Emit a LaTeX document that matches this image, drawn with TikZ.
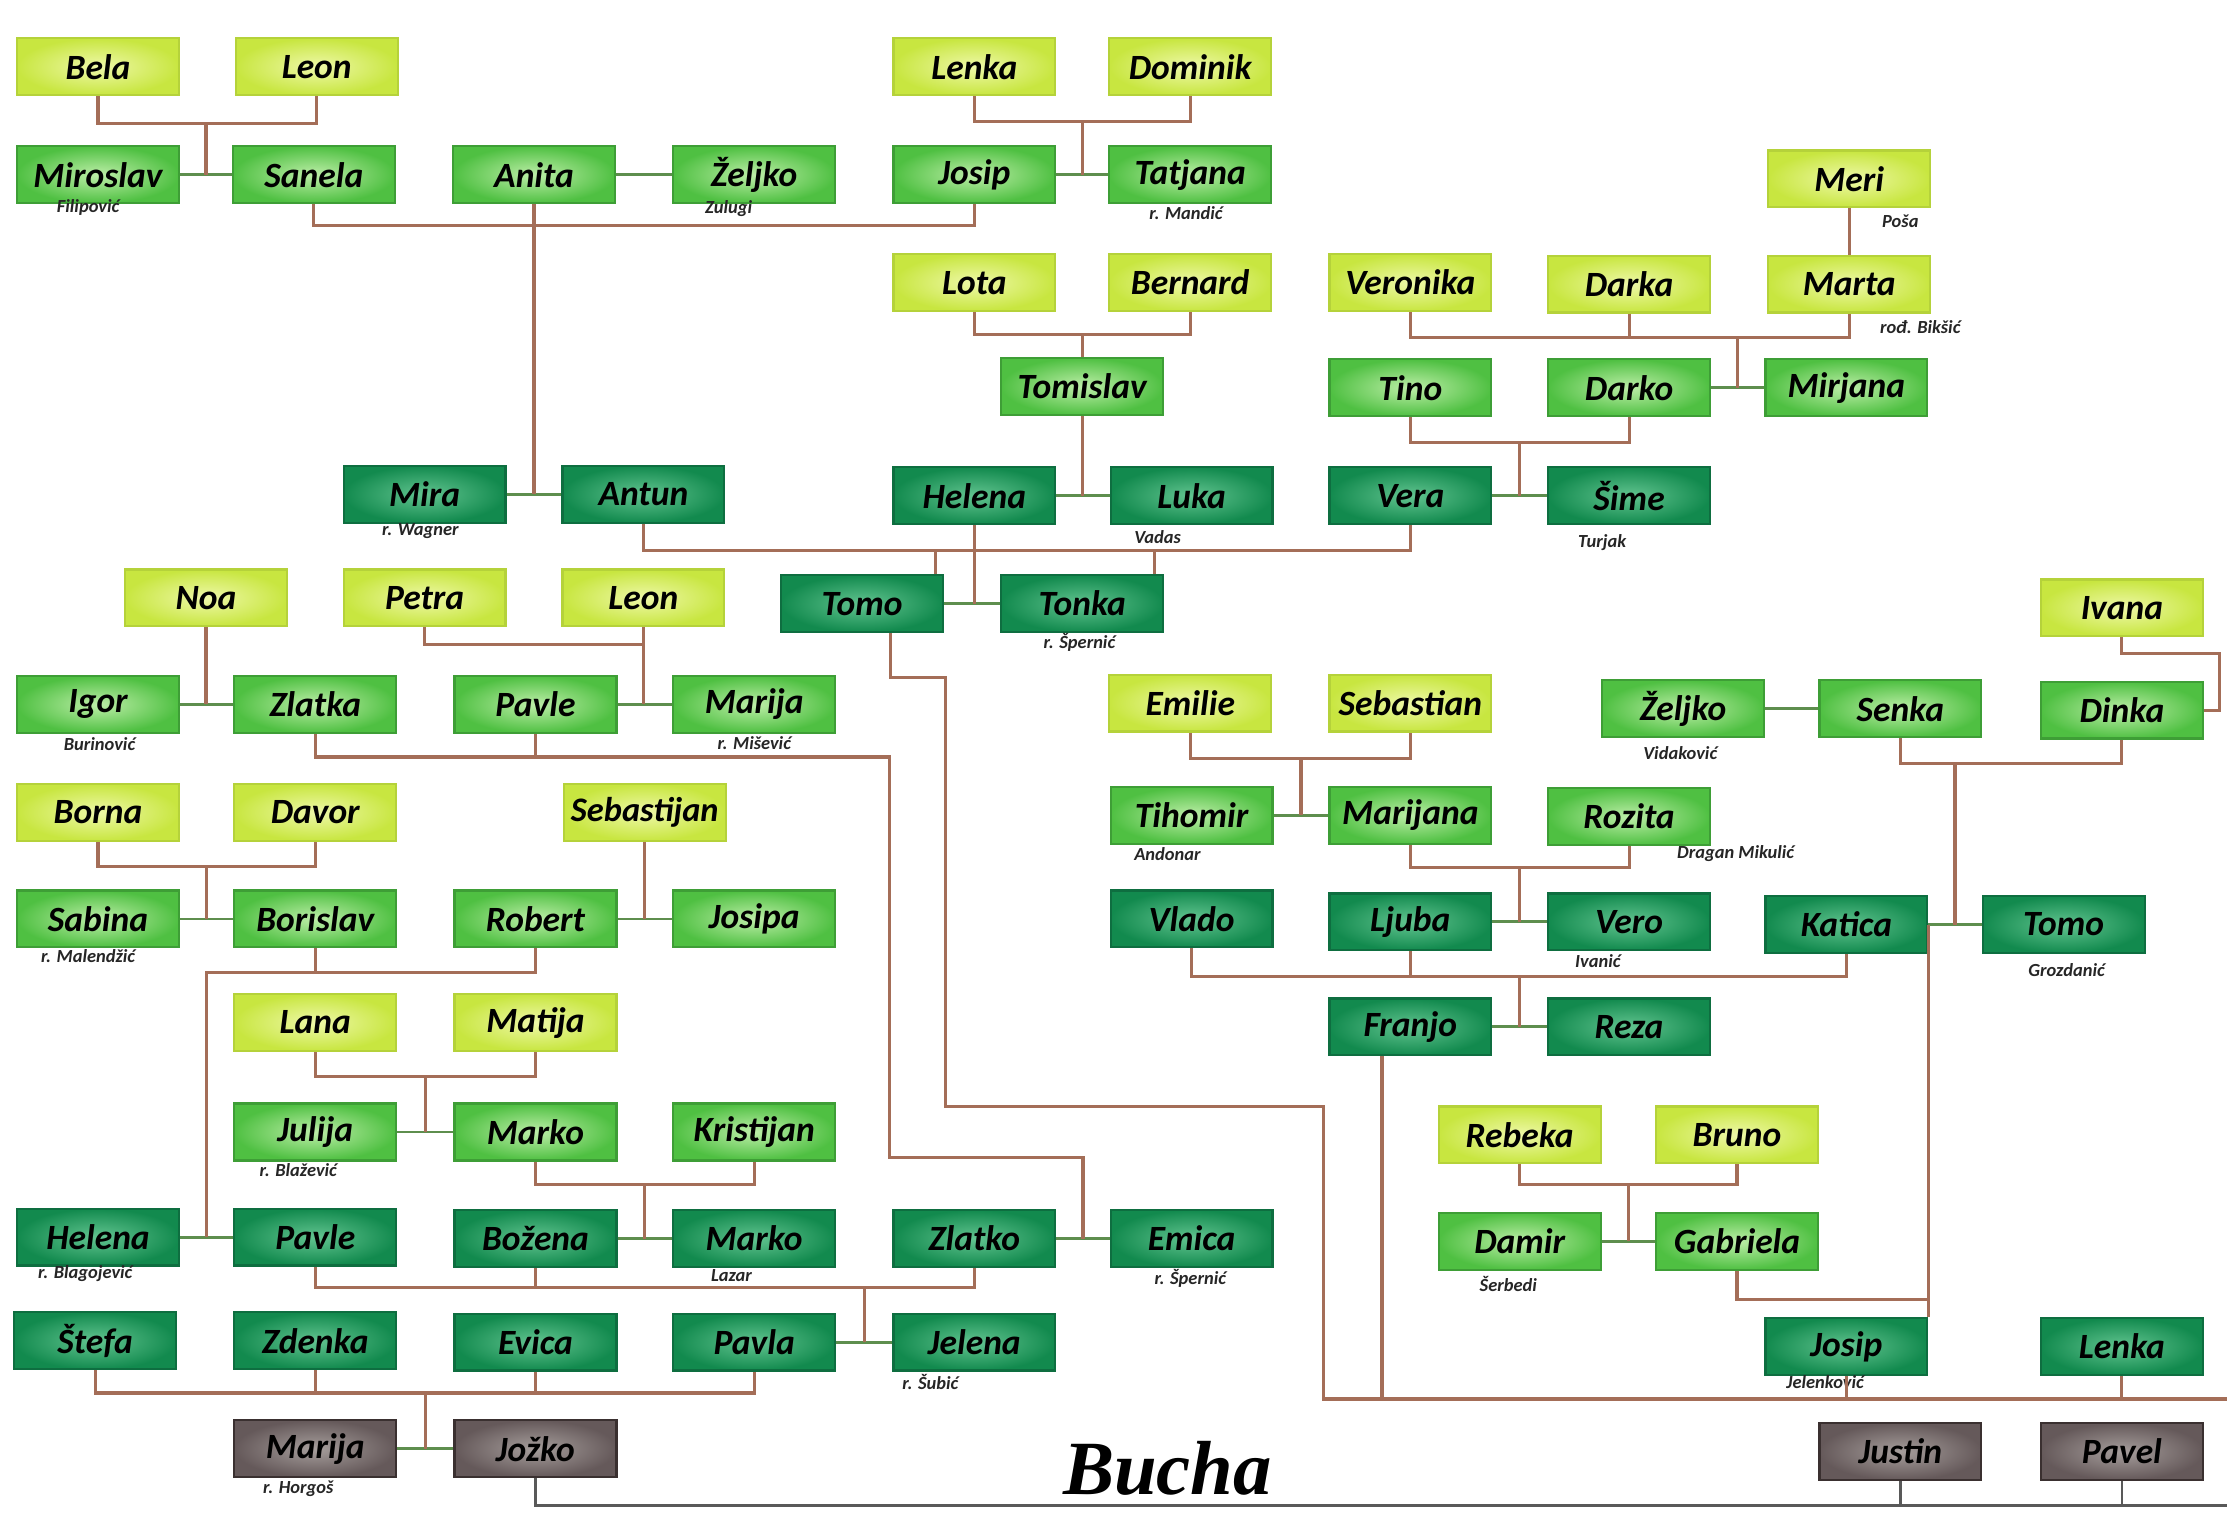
\documentclass[tikz,border=0pt]{standalone}
\usepackage{fontspec}
\usepackage{graphicx}
\setmainfont{Carlito}
\newfontfamily\titlefont{Liberation Serif}
\usetikzlibrary{calc}
\newsavebox\nmbox
\newcommand\fitname[1]{\sbox\nmbox{#1}\ifdim\wd\nmbox>104pt\resizebox{104pt}{!}{\usebox\nmbox}\else\usebox\nmbox\fi}
\newcommand\pn[4]{\node[#1] (#2) at (#3) {\fitname{#4}};}
\definecolor{brn}{HTML}{A46E58}
\definecolor{mrg}{HTML}{5E8E4E}
\definecolor{lA}{HTML}{C8E640}\definecolor{lB}{HTML}{EEF8A8}\definecolor{lD}{HTML}{B5D23A}
\definecolor{mA}{HTML}{4FC042}\definecolor{mB}{HTML}{BDEEA8}\definecolor{mD}{HTML}{3E9E36}
\definecolor{dA}{HTML}{128A4E}\definecolor{dB}{HTML}{62C490}\definecolor{dD}{HTML}{0E6E40}
\definecolor{gA}{HTML}{65595A}\definecolor{gB}{HTML}{A69E9C}\definecolor{gD}{HTML}{3A3030}
\begin{document}
\begin{tikzpicture}[x=1pt,y=-1pt,
  pbox/.style={minimum width=114pt,minimum height=40pt,inner sep=0pt,line width=1.6pt,
     font=\fontsize{25}{27}\selectfont\bfseries\itshape,text=black},
  L/.style={pbox,draw=lD,inner color=lB,outer color=lA},
  M/.style={pbox,draw=mD,inner color=mB,outer color=mA},
  D/.style={pbox,draw=dD,inner color=dB,outer color=dA},
  G/.style={pbox,draw=gD,inner color=gB,outer color=gA},
  desc/.style={draw=brn,line width=2.2pt},
  mar/.style={draw=mrg,line width=2pt},
  dk/.style={draw=black!65,line width=2pt},
  sub/.style={font=\fontsize{13}{13}\selectfont\bfseries\itshape,text=black!85,inner sep=0pt}]
\useasboundingbox[fill=white] (0,0) rectangle (1568,1065);

% ---------- persons ----------
\pn{L}{bela}{69,47}{Bela}
\pn{L}{leonA}{223,47}{Leon}
\pn{L}{lenkaA}{686,47}{Lenka}
\pn{L}{dominik}{838,47}{Dominik}
\pn{M}{miroslav}{69,123}{Miroslav}
\pn{M}{sanela}{221,123}{Sanela}
\pn{M}{anita}{376,123}{Anita}
\pn{M}{zeljkoA}{531,123}{Željko}
\pn{M}{josipA}{686,123}{Josip}
\pn{M}{tatjana}{838,123}{Tatjana}
\pn{L}{meri}{1302,126}{Meri}
\pn{L}{lota}{686,199}{Lota}
\pn{L}{bernard}{838,199}{Bernard}
\pn{L}{veronika}{993,199}{Veronika}
\pn{L}{darka}{1147,200}{Darka}
\pn{L}{marta}{1302,200}{Marta}
\pn{M}{tomislav}{762,272}{Tomislav}
\pn{M}{tino}{993,273}{Tino}
\pn{M}{darko}{1147,273}{Darko}
\pn{M}{mirjana}{1300,273}{Mirjana}
\pn{D}{mira}{299,348}{Mira}
\pn{D}{antun}{453,348}{Antun}
\pn{D}{helenaA}{686,349}{Helena}
\pn{D}{luka}{839,349}{Luka}
\pn{D}{vera}{993,349}{Vera}
\pn{D}{sime}{1147,349}{Šime}
\pn{L}{noa}{145,421}{Noa}
\pn{L}{petra}{299,421}{Petra}
\pn{L}{leonB}{453,421}{Leon}
\pn{D}{tomoA}{607,425}{Tomo}
\pn{D}{tonka}{762,425}{Tonka}
\pn{L}{ivana}{1494,428}{Ivana}
\pn{M}{igor}{69,496}{Igor}
\pn{M}{zlatka}{222,496}{Zlatka}
\pn{M}{pavleA}{377,496}{Pavle}
\pn{M}{marijaA}{531,496}{Marija}
\pn{L}{emilie}{838,495}{Emilie}
\pn{L}{sebastian}{993,495}{Sebastian}
\pn{M}{zeljkoB}{1185,499}{Željko}
\pn{M}{senka}{1338,499}{Senka}
\pn{M}{dinka}{1494,500}{Dinka}
\pn{L}{borna}{69,572}{Borna}
\pn{L}{davor}{222,572}{Davor}
\pn{L}{sebastijan}{454,572}{Sebastijan}
\pn{M}{tihomir}{839,574}{Tihomir}
\pn{M}{marijana}{993,574}{Marijana}
\pn{M}{rozita}{1147,575}{Rozita}
\pn{M}{sabina}{69,647}{Sabina}
\pn{M}{borislav}{222,647}{Borislav}
\pn{M}{robert}{377,647}{Robert}
\pn{M}{josipa}{531,647}{Josipa}
\pn{D}{vlado}{839,647}{Vlado}
\pn{D}{ljuba}{993,649}{Ljuba}
\pn{D}{verb}{1147,649}{Vero}
\pn{D}{katica}{1300,651}{Katica}
\pn{D}{tomoB}{1453,651}{Tomo}
\pn{L}{lana}{222,720}{Lana}
\pn{L}{matija}{377,720}{Matija}
\pn{D}{franjo}{993,723}{Franjo}
\pn{D}{reza}{1147,723}{Reza}
\pn{M}{julija}{222,797}{Julija}
\pn{M}{markoA}{377,797}{Marko}
\pn{M}{kristijan}{531,797}{Kristijan}
\pn{L}{rebeka}{1070,799}{Rebeka}
\pn{L}{bruno}{1223,799}{Bruno}
\pn{D}{helenaB}{69,871}{Helena}
\pn{D}{pavleB}{222,871}{Pavle}
\pn{D}{bozena}{377,872}{Božena}
\pn{D}{markoB}{531,872}{Marko}
\pn{D}{zlatko}{686,872}{Zlatko}
\pn{D}{emica}{839,872}{Emica}
\pn{M}{damir}{1070,874}{Damir}
\pn{M}{gabriela}{1223,874}{Gabriela}
\pn{D}{stefa}{67,944}{Štefa}
\pn{D}{zdenka}{222,944}{Zdenka}
\pn{D}{evica}{377,945}{Evica}
\pn{D}{pavla}{531,945}{Pavla}
\pn{D}{jelena}{686,945}{Jelena}
\pn{D}{josipB}{1300,948}{Josip}
\pn{D}{lenkaB}{1494,948}{Lenka}
\pn{G}{marijaB}{222,1020}{Marija}
\pn{G}{jozko}{377,1020}{Jožko}
\pn{G}{justin}{1338,1022}{Justin}
\pn{G}{pavel}{1494,1022}{Pavel}

\node[font=\titlefont\fontsize{54}{54}\selectfont\bfseries\itshape,inner sep=0pt] (title) at (822,1034) {Bucha};

% ---------- sub labels ----------
\node[sub] (s1) at (62,146) {Filipović};
\node[sub] (s2) at (513,147) {Zulugi};
\node[sub] (s3) at (835,150) {r. Mandić};
\node[sub] (s4) at (1338,156) {Poša};
\node[sub] (s5) at (1352,230) {rođ. Bikšić};
\node[sub] (s6) at (296,374) {r. Wagner};
\node[sub] (s7) at (815,378) {Vadas};
\node[sub] (s8) at (1128,382) {Turjak};
\node[sub] (s9) at (760,452) {r. Špernić};
\node[sub] (s10) at (70,524) {Burinović};
\node[sub] (s11) at (531,523) {r. Mišević};
\node[sub] (s12) at (1183,530) {Vidaković};
\node[sub] (s13) at (822,601) {Andonar};
\node[sub] (s14) at (1222,601) {Dragan Mikulić};
\node[sub] (s15) at (62,673) {r. Malendžić};
\node[sub] (s16) at (1125,677) {Ivanić};
\node[sub] (s17) at (1455,683) {Grozdanić};
\node[sub] (s18) at (210,824) {r. Blažević};
\node[sub] (s19) at (60,897) {r. Blagojević};
\node[sub] (s20) at (515,898) {Lazar};
\node[sub] (s21) at (838,900) {r. Špernić};
\node[sub] (s22) at (1062,904) {Šerbedi};
\node[sub] (s23) at (655,973) {r. Šubić};
\node[sub] (s24) at (1285,973) {Jelenković};
\node[sub] (s25) at (210,1048) {r. Horgoš};

% ---------- named bend points ----------
\coordinate (bendA) at (626,533);
\coordinate (bendB) at (626,815);
\coordinate (bendC) at (666,477);
\coordinate (bendD) at (666,779);
\coordinate (bendE) at (932,779);
\coordinate (bendF) at (932,985);
\coordinate (endR) at (1568,985);
\coordinate (endB) at (1568,1060);
\coordinate (ivR) at (1563,460);

% Bela & Leon
\draw[mar] (miroslav.east) -- coordinate (ms) (sanela.west);
\draw[desc] (bela.south) -- ++(0,19) coordinate (t1) -| (leonA.south);
\draw[desc] (ms) -- (ms |- t1);
\draw[desc] (sanela.south) -- ++(0,15) -| (josipA.south);
\draw[mar] (anita.east) -- (zeljkoA.west);
\draw[mar] (mira.east) -- coordinate (ma) (antun.west);
\draw[desc] (anita.south) -- (anita.south |- ma);
% Lenka & Dominik
\draw[mar] (josipA.east) -- coordinate (jt) (tatjana.west);
\draw[desc] (lenkaA.south) -- ++(0,18) coordinate (t2) -| (dominik.south);
\draw[desc] (jt) -- (jt |- t2);
% Meri, Veronika, Darka, Marta
\draw[desc] (meri.south) -- (marta.north);
\draw[desc] (veronika.south) -- ++(0,18) coordinate (t3) -| (marta.south);
\draw[desc] (darka.south) -- (darka.south |- t3);
\draw[mar] (darko.east) -- coordinate (dm) (mirjana.west);
\draw[desc] (dm) -- (dm |- t3);
% Lota & Bernard
\draw[desc] (lota.south) -- ++(0,16) coordinate (t4) -| (bernard.south);
\draw[desc] (tomislav.north) -- (tomislav.north |- t4);
\draw[mar] (helenaA.east) -- coordinate (hl) (luka.west);
\draw[desc] (tomislav.south) -- (tomislav.south |- hl);
% Tino & Darko
\draw[desc] (tino.south) -- ++(0,18) coordinate (t5) -| (darko.south);
\draw[mar] (vera.east) -- coordinate (vs) (sime.west);
\draw[desc] (vs) -- (vs |- t5);
% Antun - Vera, Helena -> Tomo & Tonka
\draw[desc] (antun.south) -- ++(0,19) coordinate (t6) -| (vera.south);
\draw[mar] (tomoA.east) -- coordinate (tt) (tonka.west);
\draw[desc] (helenaA.south) -- (helenaA.south |- tt);
\coordinate (k1) at ($(tomoA.north east)+(-6,0)$);
\draw[desc] (k1) -- (k1 |- t6);
\coordinate (k2) at ($(tonka.north east)+(-7,0)$);
\draw[desc] (k2) -- (k2 |- t6);
% Noa
\draw[mar] (igor.east) -- coordinate (iz) (zlatka.west);
\draw[desc] (noa.south) -- (noa.south |- iz);
% Petra & Leon
\draw[desc] (petra.south) -- ++(0,12) coordinate (t7) -| (leonB.south);
\draw[mar] (pavleA.east) -- coordinate (pm) (marijaA.west);
\draw[desc] (leonB.south) -- (leonB.south |- pm);
% Zlatka & Pavle -> Zlatko & Emica
\draw[mar] (zlatko.east) -- coordinate (ze) (emica.west);
\draw[desc] (zlatka.south) |- (bendA) -- (bendB) -| (ze);
\draw[desc] (pavleA.south) -- (pavleA.south |- bendA);
% Tomo -> bottom line
\coordinate (k3) at ($(tomoA.south)+(20,0)$);
\draw[desc] (k3) |- (bendC) -- (bendD) -- (bendE) -- (bendF) -- (endR);
\coordinate (k4) at ($(franjo.south)+(-20,0)$);
\draw[desc] (k4) -- (k4 |- bendF);
\draw[desc] (josipB.south) -- (josipB.south |- bendF);
\draw[desc] (lenkaB.south) -- (lenkaB.south |- bendF);
% Ivana -> Dinka
\draw[desc] (ivana.south) |- (ivR) |- (dinka.east);
% Emilie & Sebastian
\draw[desc] (emilie.south) -- ++(0,18) coordinate (t9) -| (sebastian.south);
\draw[mar] (tihomir.east) -- coordinate (tm) (marijana.west);
\draw[desc] (tm) -- (tm |- t9);
% Zeljko & Senka
\draw[mar] (zeljkoB.east) -- (senka.west);
% Senka & Dinka -> Katica & Tomo
\draw[desc] (senka.south) -- ++(0,18) coordinate (t10) -| (dinka.south);
\draw[mar] (katica.east) -- coordinate (kt) (tomoB.west);
\draw[desc] (kt) -- (kt |- t10);
\draw[desc] (katica.east) -- (katica.east |- josipB.north);
\draw[desc] (gabriela.south) -- ++(0,20) coordinate (t11) -- (t11 -| katica.east);
% Marijana & Rozita
\draw[desc] (marijana.south) -- ++(0,16) coordinate (t12) -| (rozita.south);
\draw[mar] (ljuba.east) -- coordinate (lv) (verb.west);
\draw[desc] (lv) -- (lv |- t12);
% Vlado, Ljuba, Katica -> Franjo & Reza
\draw[desc] (vlado.south) -- ++(0,20) coordinate (t13) -| (katica.south);
\draw[desc] (ljuba.south) -- (ljuba.south |- t13);
\draw[mar] (franjo.east) -- coordinate (fr) (reza.west);
\draw[desc] (fr) -- (fr |- t13);
% Rebeka & Bruno
\draw[desc] (rebeka.south) -- ++(0,14) coordinate (t14) -| (bruno.south);
\draw[mar] (damir.east) -- coordinate (dg) (gabriela.west);
\draw[desc] (dg) -- (dg |- t14);
% Borna & Davor
\draw[desc] (borna.south) -- ++(0,17) coordinate (t15) -| (davor.south);
\draw[mar] (sabina.east) -- coordinate (sb) (borislav.west);
\draw[desc] (sb) -- (sb |- t15);
% Sebastijan
\draw[mar] (robert.east) -- coordinate (rj) (josipa.west);
\draw[desc] (sebastijan.south) -- (sebastijan.south |- rj);
% Borislav & Robert -> Helena & Pavle
\draw[desc] (borislav.south) -- ++(0,17) coordinate (t16);
\draw[mar] (helenaB.east) -- coordinate (hp) (pavleB.west);
\draw[desc] (hp) |- (robert.south |- t16) -- (robert.south);
% Lana & Matija
\draw[desc] (lana.south) -- ++(0,17) coordinate (t17) -| (matija.south);
\draw[mar] (julija.east) -- coordinate (jm) (markoA.west);
\draw[desc] (jm) -- (jm |- t17);
% Marko & Kristijan
\draw[desc] (markoA.south) -- ++(0,16) coordinate (t18) -| (kristijan.south);
\draw[mar] (bozena.east) -- coordinate (bm) (markoB.west);
\draw[desc] (bm) -- (bm |- t18);
% Pavle, Bozena, Zlatko -> Pavla & Jelena
\draw[desc] (pavleB.south) -- ++(0,15) coordinate (t19) -| (zlatko.south);
\draw[desc] (bozena.south) -- (bozena.south |- t19);
\draw[mar] (pavla.east) -- coordinate (pj) (jelena.west);
\draw[desc] (pj) -- (pj |- t19);
% row 13 -> Marija & Jozko
\draw[desc] (stefa.south) -- ++(0,16) coordinate (t20) -| (pavla.south);
\draw[desc] (zdenka.south) -- (zdenka.south |- t20);
\draw[desc] (evica.south) -- (evica.south |- t20);
\draw[mar] (marijaB.east) -- coordinate (mj) (jozko.west);
\draw[desc] (mj) -- (mj |- t20);
% bottom line
\draw[dk] (jozko.south) |- (endB);
\draw[dk] (justin.south) -- (justin.south |- endB);
\draw[dk] (pavel.south) -- (pavel.south |- endB);
\end{tikzpicture}
\end{document}
